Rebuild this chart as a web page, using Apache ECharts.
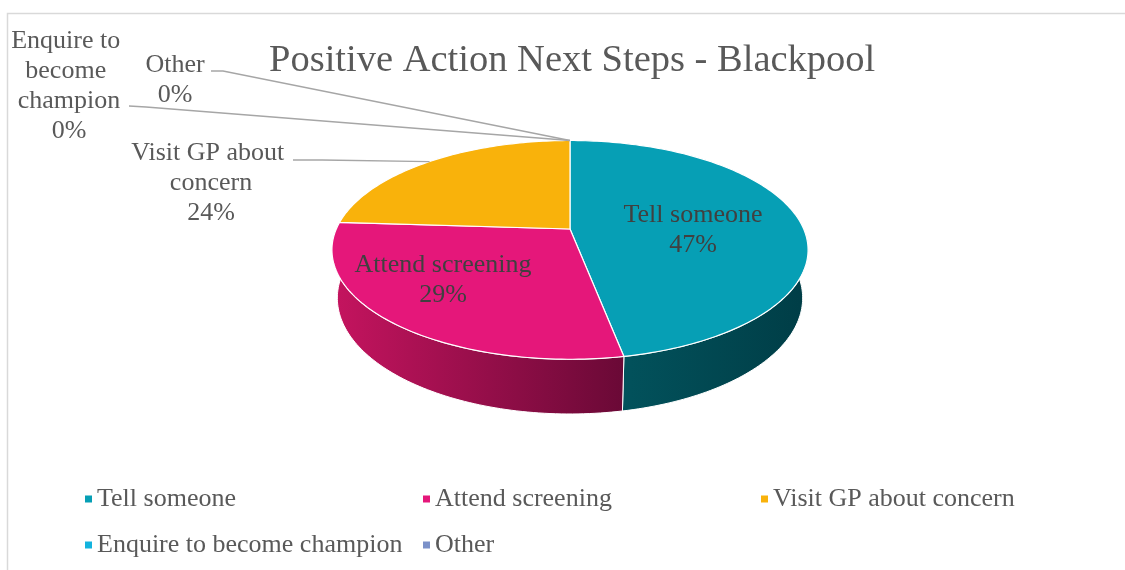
<!DOCTYPE html>
<html lang="en">
<head>
<meta charset="utf-8"/>
<title>Positive Action Next Steps - Blackpool</title>
<script src="https://cdn.jsdelivr.net/npm/echarts@6/dist/echarts.min.js"></script>
<style>
    html, body { margin: 0; padding: 0; background: #fff; }
    #main { width: 1125px; height: 570px; }
</style>
</head>
<body>
<div id="main"></div>
<script>
    // data
    const categories = ['Tell someone', 'Attend screening', 'Visit GP about concern', 'Enquire to become champion', 'Other'];
    const values = [47, 29, 24, 0, 0];
    const colors = ['#069fb5', '#e5177a', '#f9b20b', '#13b3de', '#7b91c9'];
    const wallColors = [['#02525c', '#003d46'], ['#c5145f', '#6a0936'], ['#c08a08', '#8d6505'], ['#0e8fb3', '#0a6a86'], ['#6275a8', '#4a5a84']];

    const FONT = "'Liberation Serif', serif";

    // 3d pie view (perspective), pixels
    const pie = { cx: 570, cy: 229, f: 1092, r: 0.214, h: 0.0497, sinT: 0.451, cosT: 0.892 };

    // label placement
    const labelLayout = [
        { x: 693, y: 230, inside: true },
        { x: 443, y: 280, inside: true },
        { x: 211, y: 183, width: 165, from: [293, 160], elbow: [322, 160] },
        { x: 69, y: 86, width: 120, from: [129, 106], elbow: [146, 107] },
        { x: 175, y: 80, width: 80, from: [211, 71], elbow: [223, 71] }
    ];

    const total = values.reduce((s, v) => s + v, 0);
    const starts = [];
    let acc = 0;
    values.forEach(v => { starts.push(acc / total * Math.PI * 2); acc += v; });

    function project(theta, y, k) {
        k = k == null ? 1 : k;
        const X = pie.r * k * Math.sin(theta), Z = -pie.r * k * Math.cos(theta);
        const up = y * pie.cosT - Z * pie.sinT;
        const depth = 1 - Z * pie.cosT - y * pie.sinT;
        return [pie.cx + pie.f * X / depth, pie.cy - pie.f * up / depth];
    }

    function arc(a, b, y) {
        const n = Math.max(2, Math.ceil((b - a) / 0.02));
        const pts = [];
        for (let i = 0; i <= n; i++) pts.push(project(a + (b - a) * i / n, y));
        return pts;
    }

    function renderSlice(i) {
        return function () {
            const a = starts[i], b = a + values[i] / total * Math.PI * 2;
            const children = [];
            if (values[i] > 0) {
                const wa = Math.max(a, Math.PI / 2), wb = Math.min(b, Math.PI * 1.5);
                if (wb > wa) {
                    const pts = arc(wa, wb, 0).concat(arc(wa, wb, -pie.h).reverse());
                    const xs = pts.map(p => p[0]);
                    children.push({
                        type: 'polygon', z2: 1,
                        shape: { points: pts },
                        style: {
                            fill: new echarts.graphic.LinearGradient(Math.min(...xs), 0, Math.max(...xs), 0, [
                                { offset: 0, color: wallColors[i][0] },
                                { offset: 1, color: wallColors[i][1] }
                            ], true),
                            stroke: '#fff', lineWidth: 1
                        }
                    });
                }
                children.push({
                    type: 'polygon', z2: 5,
                    shape: { points: [project(0, 0, 0)].concat(arc(a, b, 0)) },
                    style: { fill: colors[i], stroke: '#fff', lineWidth: 1.2 }
                });
            }
            const L = labelLayout[i];
            const pct = Math.round(values[i] / total * 100) + '%';
            children.push({
                type: 'text', z2: 10,
                style: {
                    text: categories[i] + '\n' + pct,
                    x: L.x, y: L.y, align: 'center', verticalAlign: 'middle',
                    font: '26px ' + FONT, fill: L.inside ? '#404040' : '#595959',
                    lineHeight: 30, width: L.width, overflow: L.width ? 'break' : 'none'
                }
            });
            if (L.from) {
                children.push({
                    type: 'polyline', z2: 8,
                    shape: { points: [L.from, L.elbow, project((a + b) / 2, 0)] },
                    style: { stroke: '#a6a6a6', lineWidth: 1.3, fill: null }
                });
            }
            return { type: 'group', children: children };
        };
    }

    const chart = echarts.init(document.getElementById('main'));
    const legendCols = [[0, 3], [1, 4], [2]];
    const legendLeft = [80, 418, 756];

    chart.setOption({
        animation: false,
        title: {
            text: 'Positive Action Next Steps - Blackpool',
            left: 264, top: 36,
            textStyle: { fontFamily: FONT, fontSize: 38.5, fontWeight: 'normal', color: '#595959' }
        },
        legend: legendCols.map((col, c) => ({
            orient: 'vertical',
            left: legendLeft[c], top: 479,
            data: col.map(i => categories[i]),
            icon: 'rect', itemWidth: 7, itemHeight: 7, itemGap: 16,
            selectedMode: false,
            textStyle: { fontFamily: FONT, fontSize: 26, color: '#595959', lineHeight: 30 }
        })),
        graphic: [{
            type: 'rect', silent: true, z: -1,
            shape: { x: 7.5, y: 13.5, width: 1200, height: 600 },
            style: { fill: null, stroke: '#d9d9d9', lineWidth: 1.5 }
        }],
        series: categories.map((name, i) => ({
            type: 'custom',
            name: name,
            coordinateSystem: 'none',
            silent: true,
            data: [[i]],
            itemStyle: { color: colors[i] },
            renderItem: renderSlice(i)
        }))
    });
</script>
</body>
</html>
